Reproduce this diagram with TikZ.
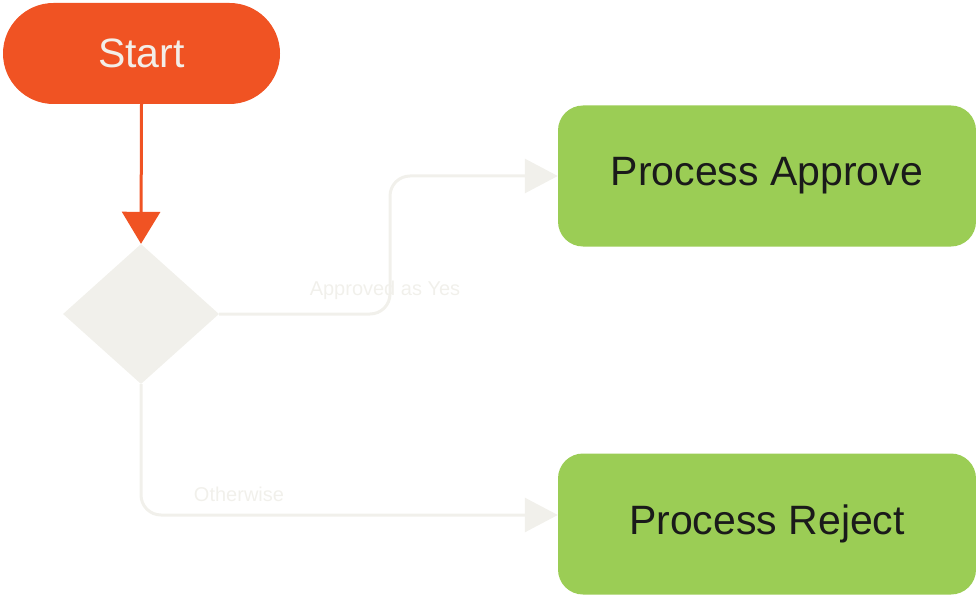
\documentclass[tikz,border=0pt]{standalone}
\usepackage{fontspec}
\setmainfont{Liberation Sans}
\usetikzlibrary{arrows.meta,shapes.geometric}

\definecolor{startorange}{HTML}{F05323}
\definecolor{startink}{HTML}{F3EEE8}
\definecolor{procgreen}{HTML}{9BCD55}
\definecolor{decgray}{HTML}{F1F0EB}
\definecolor{procink}{HTML}{1A1A1A}

\tikzset{
  terminal/.style={rounded rectangle, fill=startorange, text=startink,
    minimum width=277pt, minimum height=101pt, inner sep=0pt,
    font=\fontsize{41}{41}\selectfont},
  procbox/.style={rectangle, rounded corners=25pt, fill=procgreen, text=procink,
    minimum width=418pt, minimum height=141pt, inner sep=0pt,
    font=\fontsize{41}{41}\selectfont},
  decision/.style={diamond, fill=decgray, minimum width=156pt,
    minimum height=140pt, inner sep=0pt},
  startflow/.style={draw=startorange, line width=3pt,
    -{Triangle[length=32pt,width=38pt]}},
  branch/.style={draw=decgray, line width=3pt, rounded corners=20pt,
    -{Triangle[length=33pt,width=34pt]}},
  branchlabel/.style={text=decgray, font=\fontsize{20}{20}\selectfont,
    inner sep=0pt}
}

\usetikzlibrary{shapes.misc}

\begin{document}
\begin{tikzpicture}[x=1pt,y=-1pt]
  \useasboundingbox (0,0) rectangle (976,596);

  \node[terminal] (start) at (141.5,53.5) {Start};
  \node[decision] (dec) at (141,314) {};
  \node[procbox] (approve) at (767,176) {Process Approve};
  \node[procbox] (reject) at (767,524) {Process Reject};

  \coordinate (bend) at (390,314);

  \draw[startflow] (start.south) -- (dec.north);
  \draw[branch] (dec.east) -- (bend) |- (approve.west);
  \draw[branch] (dec.south) |- ([yshift=9pt]reject.west);

  \node[branchlabel] (yeslabel) at (385,290) {Approved as Yes};
  \node[branchlabel] (otherlabel) at (239,494) {Otherwise};
\end{tikzpicture}
\end{document}
